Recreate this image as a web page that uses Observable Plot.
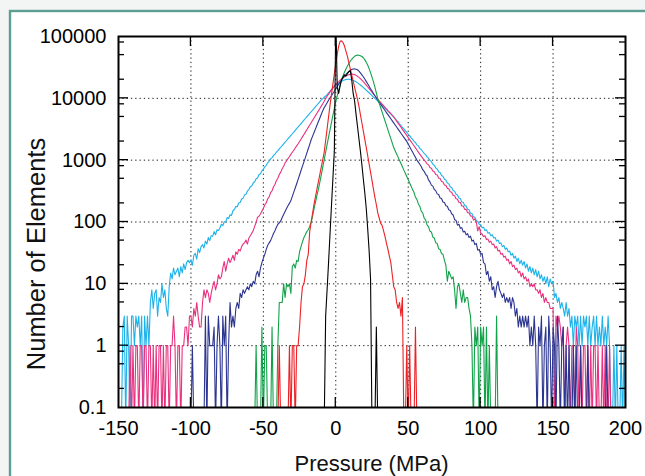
<!DOCTYPE html>
<html><head><meta charset="utf-8">
<script src="https://cdn.jsdelivr.net/npm/d3@7"></script>
<script src="https://cdn.jsdelivr.net/npm/@observablehq/plot@0.6"></script>
<style>
html,body{margin:0;padding:0;background:#f3f5f5;overflow:hidden;}
#chart{width:645px;height:476px;}
</style></head><body><div id="chart"></div>
<script>
// ---- axis ticks ----
const xTicks = [-150, -100, -50, 0, 50, 100, 150, 200];
const yTicks = [0.1, 1, 10, 100, 1000, 10000, 100000];
const yMinorFactors = [2, 5, 8];

// ---- histogram counts (1 MPa bins), first bin given by *Start ----
const cyanStart = -150;
const cyanCounts = [
0,0,0,2,3,0,3,1,0,3, 3,1,3,2,3,1,3,0,3,1, 3,1,5,8,4,7,8,3,6,5, 10,6,8,4,3,9,15,12,18,14,
16,18,13,19,15,21,17,22,24,22, 24,20,29,31,25,37,32,40,43,38, 49,44,56,50,60,59,70,62,75,73,
80,92,87,101,99,118,114,131,128,152, 160,178,176,203,207,236,241,275,281,318,
335,372,381,428,447,502,516,585,602,671, 714,780,825,905,960,1050,1100,1190,1250,1345,
1426,1519,1617,1722,1834,1953,2080,2215,2359,2512, 2676,2850,3035,3232,3442,3666,3904,4158,4428,4716,
5022,5349,5696,6066,6461,6881,7328,7804,8311,8852, 9427,9900,10400,10900,11500,12200,13000,13800,14600,15500,
16200,16900,17600,18300,18900,19400,19800,20100,20300,20300, 20200,19900,19500,19000,18500,17800,17100,16400,15700,15000,
14300,13600,12900,12300,11700,11100,10500,10000,9500,9000, 8500,8050,7650,7250,6900,6550,6200,5900,5600,5300,
5000,4720,4380,4160,3840,3660,3380,3210,2970,2830, 2610,2490,2290,2190,2010,1930,1770,1700,1550,1490,
1380,1290,1230,1130,1080,990,945,860,825,750, 720,650,630,565,548,490,476,428,414,372,
362,322,315,280,274,244,239,211,208,184, 181,160,158,139,137,121,120,105,103,92,
90,81,82,73,75,66,68,60,62,55, 56,49,51,45,46,40,42,36,38,33, 34,29,31,26,28,23,26,21,24,20,
23,18,21,16,19,15,18,14,17,13, 16,12,14,11,13,10,13,9,12,10, 11,6,7,5,6,4,5,4,3,5,
3,4,2,3,1,3,2,3,1,3, 1,3,2,3,1,3,1,2,3,1, 3,1,2,1,3,1,2,1,3,1, 0,0,1,0,1,0,0,1,0,1, 0];

const magentaStart = -150;
const magentaCounts = [
0,0,0,0,0,0,0,0,1,0, 1,0,1,1,0,1,1,0,1,1, 0,1,1,0,1,0,1,0,1,1, 0,1,0,1,1,0,1,1,3,1,
0,1,1,0,1,1,2,2,1,3, 3,2,4,3,5,3,2,2,5,8, 6,8,7,5,7,9,11,8,10,14, 12,13,18,23,16,21,26,22,25,29,
24,33,30,36,34,40,44,46,51,44, 55,60,66,72,85,98,120,124,135,150,
165,190,204,238,255,298,318,372,405,468, 510,585,640,728,800,905,970,1060,1135,1240,
1340,1450,1570,1700,1840,2000,2180,2380,2600,2840, 3100,3390,3700,4040,4410,4820,5260,5740,6270,6850,
7480,8200,9000,9900,10800,11700,12700,13700,14700,15700, 16700,17700,18700,19700,20600,21500,22300,23000,23600,24100,
24400,24600,24500,24200,23500,22700,21800,20800,19700,18600, 17500,16400,15400,14400,13500,12600,11800,11000,10300,9700,
9100,8570,8070,7600,7160,6750,6350,5990,5640,5310, 5000,4630,4290,3970,3680,3410,3150,2920,2710,2510,
2320,2150,1990,1840,1710,1580,1460,1350,1250,1160, 1080,1000,950,870,840,760,740,670,650,585,
575,515,505,452,445,398,392,350,345,308, 302,270,266,238,234,208,206,182,181,160,
160,141,141,125,125,108,112,100,72,84, 66,64,58,60,52,53,47,49,43,44, 38,40,34,35,30,31,27,28,24,25,
21,23,19,20,17,18,15,16,13,15, 12,13,11,12,9,10,9,10,8,8, 7,8,6,7,5,6,5,5,4,4,
4,0,3,2,3,2,1,2,0,1, 2,1,0,1,1,0,2,1,0,1, 0,1,1,0,1,0,1,0,1,1, 0,1,0,0,1,0,1,0,0,1, 0];

const navyStart = -100;
const navyCounts = [
0,1,0,0,0,0,0,0,0,0, 3,0,3,1,1,1,2,0,1,3, 1,0,3,1,3,0,1,5,2,3, 2,4,5,4,7,6,8,7,8,9,
8,10,9,11,10,14,16,13,18,22, 26,30,36,42,46,50,57,65,72,82, 92,97,104,118,132,148,165,183,200,222,
260,305,355,415,490,575,680,800,940,1100, 1300,1530,1800,2140,2450,2800,3210,3680,4210,4820,
5520,6320,7100,7700,8500,9300,10100,11000,12000,13000, 14200,15500,16900,18300,19800,21300,22800,24300,25800,27200,
28400,29300,29800,29900,29600,29000,27500,25800,24000,22300, 20500,18800,17200,15700,14300,13100,12000,11000,10100,9300,
8600,8000,7400,6860,6350,5880,5450,5050,4670,4330, 4010,3710,3440,3180,2950,2730,2530,2340,2170,2010,
1820,1650,1490,1350,1220,1110,1000,930,860,790, 700,660,590,560,480,445,395,380,335,322,
285,278,245,240,210,206,183,180,158,154, 136,130,110,106,89,92,79,81,69,71,
62,65,56,59,49,51,43,45,35,36, 30,31,22,21,14,16,11,13,8,9, 6,9,11,8,7,6,7,5,6,5,
6,4,6,5,3,4,2,3,2,3, 2,3,2,3,1,2,1,3,1,0, 2,1,3,0,1,2,0,3,1,0, 2,1,0,3,1,0,1,2,0,1,
0,1,0,0,1,0,1,0,0,1, 0,0,0,0,1,0,0,0,0,0, 0,0,0,0,0,0,0,1,0,0, 0];

const greenStart = -57;
const greenCounts = [
0,0,1,0,0,0,2,0,1,1, 0,0,0,2,0,0,0,1,5,5, 5,10,6,10,9,10,7,19,21,18, 24,23,33,40,48,56,62,70,75,85,
100,125,165,210,270,340,440,580,770,1020, 1350,1780,2350,3100,4050,5300,6900,8900,11000,13500,
16500,19800,23200,26500,29800,33000,36500,39800,42800,45500, 47800,49300,50000,49800,49000,47500,45300,42300,38500,34500,
30200,26000,22000,18400,15200,12200,9800,8300,7050,5980, 5070,4300,3650,3090,2620,2230,1890,1600,1420,1260,
1120,990,880,780,690,615,545,483,428,380, 334,300,252,232,196,180,150,140,116,108,
90,84,71,69,57,55,46,45,37,36, 31,30,24,20,11,16,14,12,13,8, 4,9,10,7,5,8,5,6,6,4,
3,1,0,2,1,2,0,2,1,2, 0,2,0,1,0,0,0,0,3,0];

const redStart = -42;
const redCounts = [
0,0,0,1,0,0,0,0,0,0, 1,0,1,1,0,1,1,2,5,9, 10,14,24,30,70,100,140,195,260,340,
450,590,780,1020,1340,2080,3200,5000,7700,11500, 17000,25000,37000,52000,70000,84000,85000,80000,70000,58000,
48000,38000,30000,24000,19000,15000,12000,9600,7400,5450, 4030,2970,2190,1620,1190,870,640,470,340,250,
190,140,115,95,88,72,58,45,36,28, 22,14,9,8,5,4,5,3,6,0, 0,1,0,1,0,0,0,2,0];

const blackStart = -9;
const blackCounts = [
0,0,3,8,22,63,180,500,1400,200000, 15000,12000,16000,20000,22000,24000,23000,25000,27000,28000,
20000,12000,9000,5500,3500,2200,1400,850,500,300, 170,80,35,12,0,0,0,2,0];

const series = [
  {name: "cyan",    color: "#1eb2ea", start: cyanStart,    counts: cyanCounts},
  {name: "magenta", color: "#e9317f", start: magentaStart, counts: magentaCounts},
  {name: "navy",    color: "#2c3590", start: navyStart,    counts: navyCounts},
  {name: "green",   color: "#12a24a", start: greenStart,   counts: greenCounts},
  {name: "red",     color: "#ec2227", start: redStart,     counts: redCounts},
  {name: "black",   color: "#000000", start: blackStart,   counts: blackCounts}
];
const rows = series.flatMap(s => s.counts.map((n, i) => ({p: s.start + i, n, s: s.name})));

const FONT = "'Liberation Sans', Arial, Helvetica, sans-serif";

const chart = Plot.plot({
  width: 645, height: 476,
  marginLeft: 118, marginRight: 20, marginTop: 36, marginBottom: 69,
  style: {background: "transparent", fontFamily: FONT},
  x: {domain: [-150, 200]},
  y: {type: "log", domain: [0.1, 100000]},
  marks: [
    Plot.gridX(xTicks.slice(1, -1), {stroke: "#000", strokeOpacity: 0.9, strokeWidth: 1, strokeDasharray: "1.3,3"}),
    Plot.gridY(yTicks.slice(1, -1), {stroke: "#000", strokeOpacity: 0.9, strokeWidth: 1, strokeDasharray: "1.3,3"}),
    ...series.map(s => Plot.line(rows.filter(r => r.s === s.name), {
      x: "p", y: d => Math.max(d.n, 0.05), stroke: s.color, strokeWidth: 1.1, clip: true
    })),
    Plot.axisX(xTicks, {tickSize: 0, tickPadding: 13, fontSize: 20, label: null, fill: "#000", tickFormat: d => String(d)}),
    Plot.axisY(yTicks, {tickSize: 0, tickPadding: 12, fontSize: 20, label: null, fill: "#000", tickFormat: d => String(d)}),
    Plot.frame({stroke: "#000", strokeWidth: 2})
  ]
});

const svg = d3.select(chart);
const sx = chart.scale("x"), sy = chart.scale("y");
const X0 = sx.apply(-150), X1 = sx.apply(200), Y0 = sy.apply(0.1), Y1 = sy.apply(100000);

// background + teal frame (behind everything)
const bg = svg.insert("g", ":first-child");
bg.append("rect").attr("x", 0).attr("y", 0).attr("width", 645).attr("height", 476).attr("fill", "#f3f5f5");
bg.append("rect").attr("x", 10).attr("y", 11).attr("width", 660).attr("height", 500)
  .attr("fill", "#ffffff").attr("stroke", "#5e9e92").attr("stroke-width", 2.4);

// inward tick marks on all four sides
const tg = svg.append("g").attr("stroke", "#000").attr("stroke-width", 1.3);
for (const v of xTicks.slice(1, -1)) {
  const X = sx.apply(v);
  tg.append("line").attr("x1", X).attr("x2", X).attr("y1", Y0).attr("y2", Y0 - 10);
  tg.append("line").attr("x1", X).attr("x2", X).attr("y1", Y1).attr("y2", Y1 + 10);
}
const minor = [];
for (const d of yTicks.slice(0, -1)) for (const f of yMinorFactors) minor.push(d * f);
for (const v of yTicks.slice(1, -1)) {
  const Y = sy.apply(v);
  tg.append("line").attr("x1", X0).attr("x2", X0 + 10).attr("y1", Y).attr("y2", Y);
  tg.append("line").attr("x1", X1).attr("x2", X1 - 10).attr("y1", Y).attr("y2", Y);
}
for (const v of minor) {
  const Y = sy.apply(v);
  tg.append("line").attr("x1", X0).attr("x2", X0 + 6).attr("y1", Y).attr("y2", Y);
  tg.append("line").attr("x1", X1).attr("x2", X1 - 6).attr("y1", Y).attr("y2", Y);
}

// axis titles
svg.append("text").attr("x", (X0 + X1) / 2).attr("y", 471).attr("text-anchor", "middle")
  .attr("font-family", FONT).attr("font-size", 22).attr("fill", "#111").text("Pressure (MPa)");
svg.append("text").attr("transform", `translate(45,254) rotate(-90)`).attr("text-anchor", "middle")
  .attr("font-family", FONT).attr("font-size", 25.5).attr("fill", "#111").text("Number of Elements");

document.getElementById("chart").appendChild(chart);
</script></body></html>
